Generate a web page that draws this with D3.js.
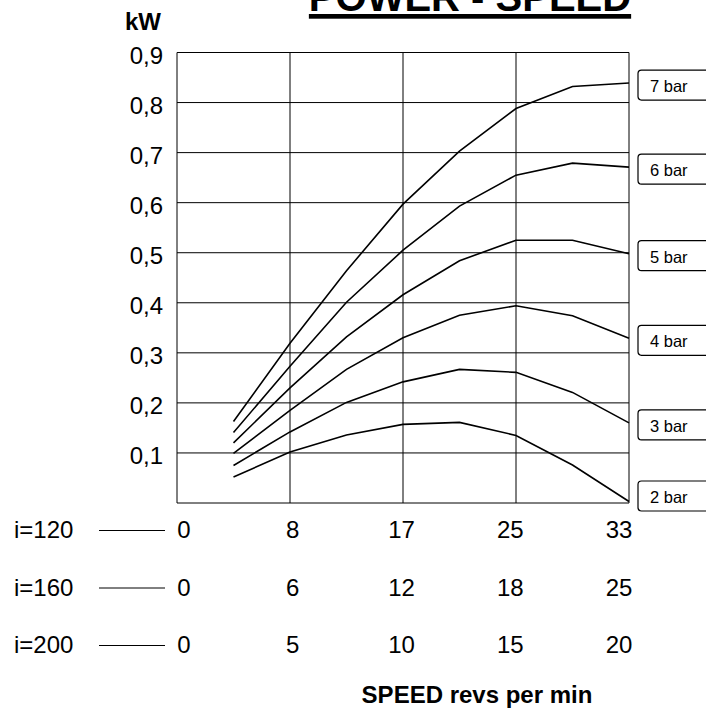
<!DOCTYPE html>
<html>
<head>
<meta charset="utf-8">
<script src="https://cdn.jsdelivr.net/npm/d3@7"></script>
<style>
  html, body { margin: 0; padding: 0; background: #fff; }
  svg { display: block; font-family: "Liberation Sans", Arial, sans-serif; }
</style>
</head>
<body>
<svg id="chart" width="706" height="711"></svg>
<script>
// ---- data ----
const title = "POWER - SPEED";
const yLabel = "kW";
const xLabel = "SPEED revs per min";
// x positions expressed in i=200 speed units
const speeds = [2.5, 5, 7.5, 10, 12.5, 15, 17.5, 20];
const seriesNames = ["7 bar", "6 bar", "5 bar", "4 bar", "3 bar", "2 bar"];
const bar7 = [0.163, 0.319, 0.464, 0.597, 0.703, 0.788, 0.832, 0.839];
const bar6 = [0.141, 0.273, 0.401, 0.505, 0.593, 0.655, 0.679, 0.671];
const bar5 = [0.120, 0.230, 0.332, 0.416, 0.484, 0.525, 0.525, 0.498];
const bar4 = [0.099, 0.185, 0.267, 0.330, 0.375, 0.394, 0.374, 0.329];
const bar3 = [0.075, 0.142, 0.201, 0.242, 0.267, 0.261, 0.221, 0.160];
const bar2 = [0.052, 0.102, 0.136, 0.157, 0.161, 0.135, 0.076, 0.003];
const seriesValues = [bar7, bar6, bar5, bar4, bar3, bar2];
const yTicks = [0.1, 0.2, 0.3, 0.4, 0.5, 0.6, 0.7, 0.8, 0.9];
const yTickLabels = ["0,1", "0,2", "0,3", "0,4", "0,5", "0,6", "0,7", "0,8", "0,9"];
const xGridTicks = [0, 5, 10, 15, 20];
const ratioNames = ["i=120", "i=160", "i=200"];
const ticks120 = ["0", "8", "17", "25", "33"];
const ticks160 = ["0", "6", "12", "18", "25"];
const ticks200 = ["0", "5", "10", "15", "20"];
const ratioTicks = [ticks120, ticks160, ticks200];

// ---- layout ----
const svg = d3.select("#chart");
const x = d3.scaleLinear().domain([0, 20]).range([177, 629]);
const y = d3.scaleLinear().domain([0, 0.9]).range([503, 52.5]);
const xLab = d3.scaleLinear().domain([0, 20]).range([184, 619]);
const rowY = d3.scaleLinear().domain([0, 2]).range([538, 653]);

// grid
const g = svg.append("g");
g.selectAll("line.h").data(yTicks).join("line")
  .attr("x1", x(0)).attr("x2", x(20))
  .attr("y1", d => y(d)).attr("y2", d => y(d))
  .attr("stroke", "#000").attr("stroke-width", 1);
g.selectAll("line.v").data(xGridTicks).join("line")
  .attr("x1", d => x(d)).attr("x2", d => x(d))
  .attr("y1", y(0)).attr("y2", y(0.9))
  .attr("stroke", "#000").attr("stroke-width", 1);
g.append("line").attr("x1", x(0)).attr("x2", x(20)).attr("y1", y(0)).attr("y2", y(0))
  .attr("stroke", "#000").attr("stroke-width", 1);

// y tick labels
svg.selectAll("text.ytick").data(yTicks).join("text")
  .attr("x", x(0) - 14).attr("y", d => y(d) + 11)
  .attr("text-anchor", "end").attr("font-size", 24).attr("fill", "#000")
  .text((d, i) => yTickLabels[i]);

// kW
svg.append("text").attr("x", 143).attr("y", 29.5).attr("text-anchor", "middle")
  .attr("font-size", 24).attr("font-weight", "bold").text(yLabel);

// title
const t = svg.append("text").attr("x", 470).attr("y", 10.5).attr("text-anchor", "middle")
  .attr("font-size", 40).attr("font-weight", "bold").text(title);
const tw = t.node().getComputedTextLength();
svg.append("rect").attr("x", 470 - tw / 2).attr("y", 14).attr("width", tw).attr("height", 4.7).attr("fill", "#000");

// curves
const line = d3.line().x((d, i) => x(speeds[i])).y(d => y(d));
svg.selectAll("path.curve").data(seriesValues).join("path")
  .attr("d", d => line(d)).attr("fill", "none")
  .attr("stroke", "#000").attr("stroke-width", 1.6).attr("stroke-linejoin", "miter");

// series label boxes
const boxes = svg.selectAll("g.box").data(seriesValues).join("g")
  .attr("transform", d => `translate(638, ${Math.min(y(d[d.length - 1]) + 2, 496)})`);
boxes.append("rect").attr("x", 0).attr("y", -15).attr("width", 90).attr("height", 30)
  .attr("rx", 3.5).attr("fill", "#fff").attr("stroke", "#000").attr("stroke-width", 1.2);
boxes.append("text").attr("x", 12).attr("y", 7).attr("font-size", 16.5).attr("fill", "#000")
  .text((d, i) => seriesNames[i]);

// speed rows
ratioNames.forEach((name, r) => {
  const by = rowY(r);
  svg.append("text").attr("x", 14).attr("y", by).attr("font-size", 24).text(name);
  svg.append("line").attr("x1", 99).attr("x2", 165).attr("y1", by - 7.5).attr("y2", by - 7.5)
    .attr("stroke", "#000").attr("stroke-width", 1);
  svg.selectAll("text.r" + r).data(xGridTicks).join("text")
    .attr("x", d => xLab(d)).attr("y", by).attr("text-anchor", "middle")
    .attr("font-size", 24).text((d, i) => ratioTicks[r][i]);
});

// x label
svg.append("text").attr("x", 477).attr("y", 703).attr("text-anchor", "middle")
  .attr("font-size", 24).attr("font-weight", "bold").text(xLabel);
</script>
</body>
</html>
